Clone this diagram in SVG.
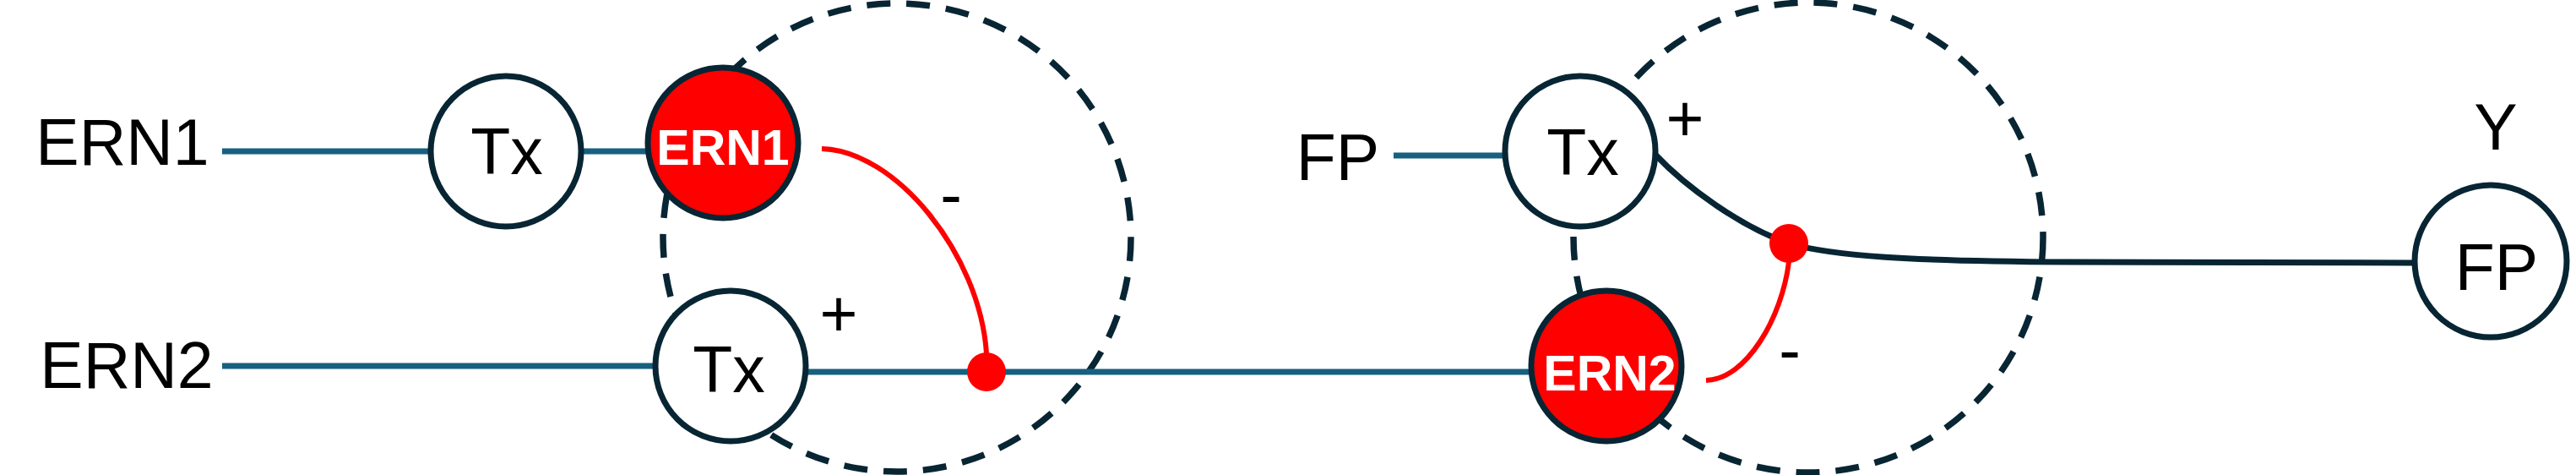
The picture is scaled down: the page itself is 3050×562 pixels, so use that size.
<svg xmlns="http://www.w3.org/2000/svg" width="3050" height="562" viewBox="0 0 3050 562">
<style>
.lbl{font-family:"Liberation Sans",Arial,sans-serif;font-size:77px;fill:#000;text-anchor:middle}
.wlbl{font-family:"Liberation Sans",Arial,sans-serif;font-size:59px;font-weight:bold;fill:#fff;text-anchor:middle}
.node{fill:#fff;stroke:#082533;stroke-width:7}
.rnode{fill:#ff0000;stroke:#082533;stroke-width:7}
.loop{fill:none;stroke:#082533;stroke-width:7.5;stroke-dasharray:28 19}
.teal{fill:none;stroke:#176080;stroke-width:7}
.dark{fill:none;stroke:#082533;stroke-width:7}
.inh{fill:none;stroke:#ff0000;stroke-width:6}
.dot{fill:#ff0000}
</style>
<rect width="3050" height="562" fill="#fff"/>
<g id="loops">
<circle class="loop" cx="1062" cy="281" r="277"/>
<circle class="loop" cx="2141" cy="281" r="278"/>
</g>
<g id="connectors">
<path class="teal" d="M263,179 H507"/>
<path class="teal" d="M689,179 H765"/>
<path class="teal" d="M263,433 H773"/>
<path class="teal" d="M956,440 H1810"/>
<path class="teal" d="M1650,184 H1779"/>
<path class="dark" d="M1960,183 C1995,220 2060,268 2118,288 C2170,303 2260,309 2450,310 L2857,311"/>
<path class="inh" d="M973,176 C1060,178 1160,300 1168,418"/>
<path class="inh" d="M2020,450 C2068,449 2110,375 2118,310"/>
<circle class="dot" cx="1168" cy="440" r="23"/>
<circle class="dot" cx="2118" cy="288" r="23"/>
<text class="lbl" x="1126" y="257">-</text>
<text class="lbl" x="993" y="398">+</text>
<text class="lbl" x="1995" y="167">+</text>
<text class="lbl" x="2119" y="441">-</text>
</g>
<g id="label-ern1"><text class="lbl" x="145" y="195">ERN1</text></g>
<g id="label-ern2"><text class="lbl" x="150" y="459">ERN2</text></g>
<g id="label-fp"><text class="lbl" x="1584" y="213">FP</text></g>
<g id="label-y"><text class="lbl" x="2955" y="177">Y</text></g>
<g id="tx1"><circle class="node" cx="599" cy="179" r="89"/><text class="lbl" x="600" y="206">Tx</text></g>
<g id="ern1"><circle class="rnode" cx="856" cy="169" r="89"/><text class="wlbl" x="856" y="195">ERN1</text></g>
<g id="tx2"><circle class="node" cx="865" cy="433" r="89"/><text class="lbl" x="863" y="464">Tx</text></g>
<g id="tx3"><circle class="node" cx="1871" cy="179" r="89"/><text class="lbl" x="1874" y="207">Tx</text></g>
<g id="ern2"><circle class="rnode" cx="1902" cy="433" r="89"/><text class="wlbl" x="1906" y="462">ERN2</text></g>
<g id="fp"><circle class="node" cx="2949" cy="309" r="90"/><text class="lbl" x="2956" y="343">FP</text></g>
</svg>
